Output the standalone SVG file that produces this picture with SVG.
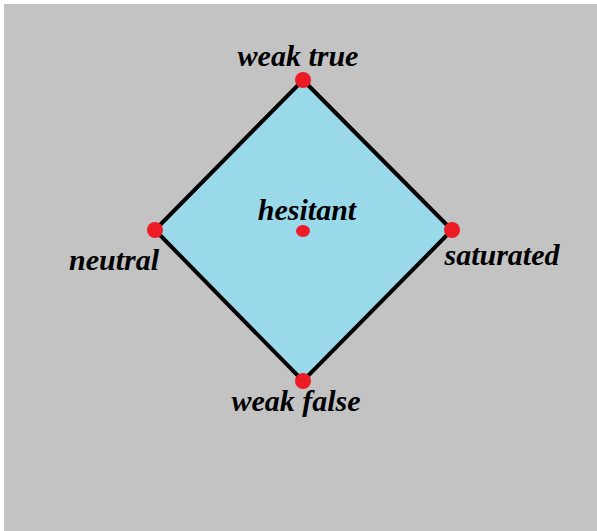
<svg xmlns="http://www.w3.org/2000/svg" width="597" height="531" viewBox="0 0 597 531">
<style>
.lbl{font-family:"Liberation Serif","Times New Roman",serif;font-weight:bold;font-style:italic;font-size:30px;fill:#000}
.pt{fill:#ed1c24}
</style>
<rect x="0" y="0" width="597" height="531" fill="#ffffff"/>
<rect x="4" y="4" width="593" height="527" fill="#c3c3c3"/>
<g id="connectors">
<polygon points="303,80 452,230 303,381 155,230" fill="#99d9ea" stroke="#000" stroke-width="4" stroke-linejoin="miter"/>
</g>
<g id="weak-true"><circle class="pt" cx="303" cy="80" r="8"/><text class="lbl" x="298" y="66" text-anchor="middle">weak true</text></g>
<g id="neutral"><circle class="pt" cx="155" cy="230" r="8"/><text class="lbl" x="114" y="270" text-anchor="middle">neutral</text></g>
<g id="hesitant"><ellipse class="pt" cx="303" cy="231" rx="7" ry="6"/><text class="lbl" x="307" y="220" text-anchor="middle">hesitant</text></g>
<g id="saturated"><circle class="pt" cx="452" cy="230" r="8"/><text class="lbl" x="502" y="265" text-anchor="middle">saturated</text></g>
<g id="weak-false"><circle class="pt" cx="303" cy="381" r="8"/><text class="lbl" x="296" y="411" text-anchor="middle">weak false</text></g>
</svg>
